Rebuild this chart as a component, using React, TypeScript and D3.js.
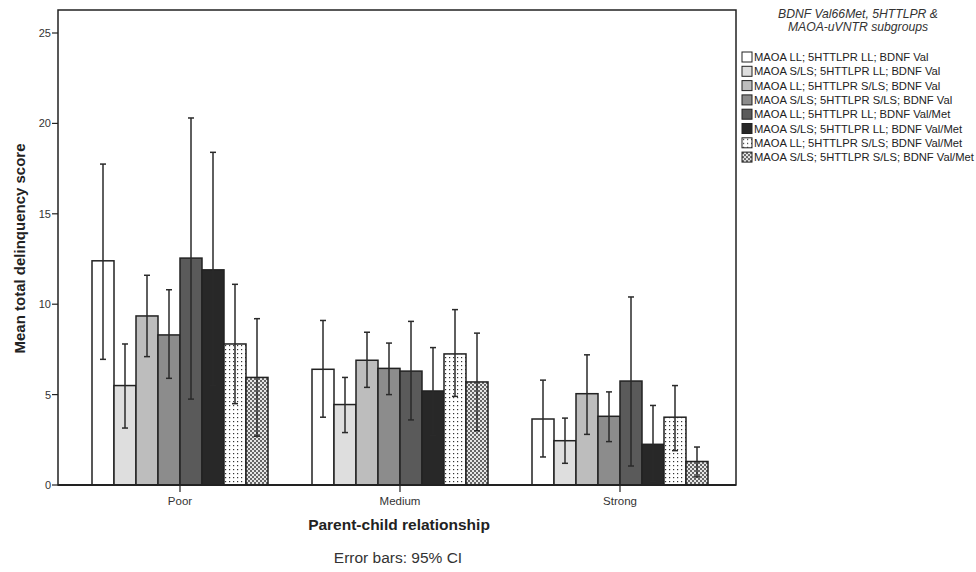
import React from 'react';
import * as d3 from 'd3';

const categories = ['Poor', 'Medium', 'Strong'];

const subgroups = [
  'MAOA LL; 5HTTLPR LL; BDNF Val',
  'MAOA S/LS; 5HTTLPR LL; BDNF Val',
  'MAOA LL; 5HTTLPR S/LS; BDNF Val',
  'MAOA S/LS; 5HTTLPR S/LS; BDNF Val',
  'MAOA LL; 5HTTLPR LL; BDNF Val/Met',
  'MAOA S/LS; 5HTTLPR LL; BDNF Val/Met',
  'MAOA LL; 5HTTLPR S/LS; BDNF Val/Met',
  'MAOA S/LS; 5HTTLPR S/LS; BDNF Val/Met',
];

// means per category, one row per subgroup
const means = [
  [12.4, 6.4, 3.65],
  [5.5, 4.45, 2.45],
  [9.35, 6.9, 5.05],
  [8.3, 6.45, 3.8],
  [12.55, 6.3, 5.75],
  [11.9, 5.2, 2.25],
  [7.8, 7.25, 3.75],
  [5.95, 5.7, 1.3],
];

const ciHigh = [
  [17.75, 9.1, 5.8],
  [7.8, 5.95, 3.7],
  [11.6, 8.45, 7.2],
  [10.8, 7.85, 5.15],
  [20.3, 9.05, 10.4],
  [18.4, 7.6, 4.4],
  [11.1, 9.7, 5.5],
  [9.2, 8.4, 2.1],
];

const ciLow = [
  [6.95, 3.75, 1.55],
  [3.15, 2.9, 1.2],
  [7.1, 5.4, 2.8],
  [5.9, 5.0, 2.4],
  [4.75, 3.6, 1.05],
  [5.5, 2.75, 0.2],
  [4.5, 4.9, 1.9],
  [2.7, 3.0, 0.45],
];

const yTicks = [0, 5, 10, 15, 20, 25];

const fills = ['#ffffff', '#dedede', '#bdbdbd', '#8c8c8c', '#5a5a5a', '#282828', 'url(#dots)', 'url(#checks)'];

const font = '"Liberation Sans", Arial, sans-serif';

export default function App() {
  const left = 58, right = 736, top = 10, bottom = 485;

  const x = d3.scaleBand<string>()
    .domain(categories)
    .range([70, 730])
    .paddingInner(0.2)
    .paddingOuter(0.1);

  const xs = d3.scaleBand<number>()
    .domain(d3.range(subgroups.length))
    .range([0, x.bandwidth()]);

  const y = d3.scaleLinear().domain([0, 25]).range([bottom, 33]);

  const bw = xs.bandwidth();

  return (
    <svg width={976} height={572} style={{ position: 'absolute', left: 0, top: 0, background: '#fff' }}>
      <defs>
        <pattern id="dots" width={4} height={4} patternUnits="userSpaceOnUse">
          <rect width={4} height={4} fill="#fff" />
          <rect x={1} y={1} width={1.2} height={1.2} fill="#333" />
        </pattern>
        <pattern id="checks" width={4} height={4} patternUnits="userSpaceOnUse">
          <rect width={4} height={4} fill="#e6e6e6" />
          <rect width={2} height={2} fill="#666" />
          <rect x={2} y={2} width={2} height={2} fill="#666" />
        </pattern>
      </defs>
      <rect x={left} y={top} width={right - left} height={bottom - top} fill="#fff" stroke="#222" strokeWidth={1.5} />

      {yTicks.map(t => (
        <g key={t}>
          <line x1={left - 6} x2={left} y1={y(t)} y2={y(t)} stroke="#222" strokeWidth={1.2} />
          <text x={left - 7} y={y(t) + 4} textAnchor="end" fontSize={11} fontFamily={font} fill="#333">{t}</text>
        </g>
      ))}

      {categories.map((c, ci) => (
        <g key={c}>
          {subgroups.map((s, si) => {
            const bx = (x(c) as number) + (xs(si) as number);
            return (
              <rect key={s} x={bx} y={y(means[si][ci])} width={bw} height={y(0) - y(means[si][ci])}
                fill={fills[si]} stroke="#222" strokeWidth={1.5} />
            );
          })}
          {subgroups.map((s, si) => {
            const cx = (x(c) as number) + (xs(si) as number) + bw / 2;
            return (
              <g key={s} stroke="#2a2a2a" strokeWidth={1.5}>
                <line x1={cx} x2={cx} y1={y(ciLow[si][ci])} y2={y(ciHigh[si][ci])} />
                <line x1={cx - 3} x2={cx + 3} y1={y(ciLow[si][ci])} y2={y(ciLow[si][ci])} />
                <line x1={cx - 3} x2={cx + 3} y1={y(ciHigh[si][ci])} y2={y(ciHigh[si][ci])} />
              </g>
            );
          })}
          <line x1={(x(c) as number) + x.bandwidth() / 2} x2={(x(c) as number) + x.bandwidth() / 2}
            y1={bottom} y2={bottom + 7} stroke="#222" strokeWidth={1.2} />
          <text x={(x(c) as number) + x.bandwidth() / 2} y={505} textAnchor="middle" fontSize={11.5} fontFamily={font} fill="#333">{c}</text>
        </g>
      ))}

      <line x1={left} x2={right} y1={bottom} y2={bottom} stroke="#222" strokeWidth={1.8} />

      <text transform={`translate(25,${(top + bottom) / 2 + 1}) rotate(-90)`} textAnchor="middle" fontSize={15}
        fontWeight="bold" fontFamily={font} fill="#222">Mean total delinquency score</text>
      <text x={(left + right) / 2 + 2} y={530} textAnchor="middle" fontSize={15.5} fontWeight="bold" fontFamily={font} fill="#222">Parent-child relationship</text>
      <text x={398} y={563} textAnchor="middle" fontSize={15.5} fontFamily={font} fill="#333">Error bars: 95% CI</text>

      <text x={858} y={18} textAnchor="middle" fontSize={12.2} fontStyle="italic" fontFamily={font} fill="#333">BDNF Val66Met, 5HTTLPR &amp;</text>
      <text x={858} y={31} textAnchor="middle" fontSize={12.2} fontStyle="italic" fontFamily={font} fill="#333">MAOA-uVNTR subgroups</text>
      {subgroups.map((s, si) => (
        <g key={s} transform={`translate(742,${52 + si * 14.3})`}>
          <rect x={0} y={0} width={10} height={10} fill={fills[si]} stroke="#222" strokeWidth={1} />
          <text x={12} y={9} fontSize={11.2} fontFamily={font} fill="#222">{s}</text>
        </g>
      ))}
    </svg>
  );
}
